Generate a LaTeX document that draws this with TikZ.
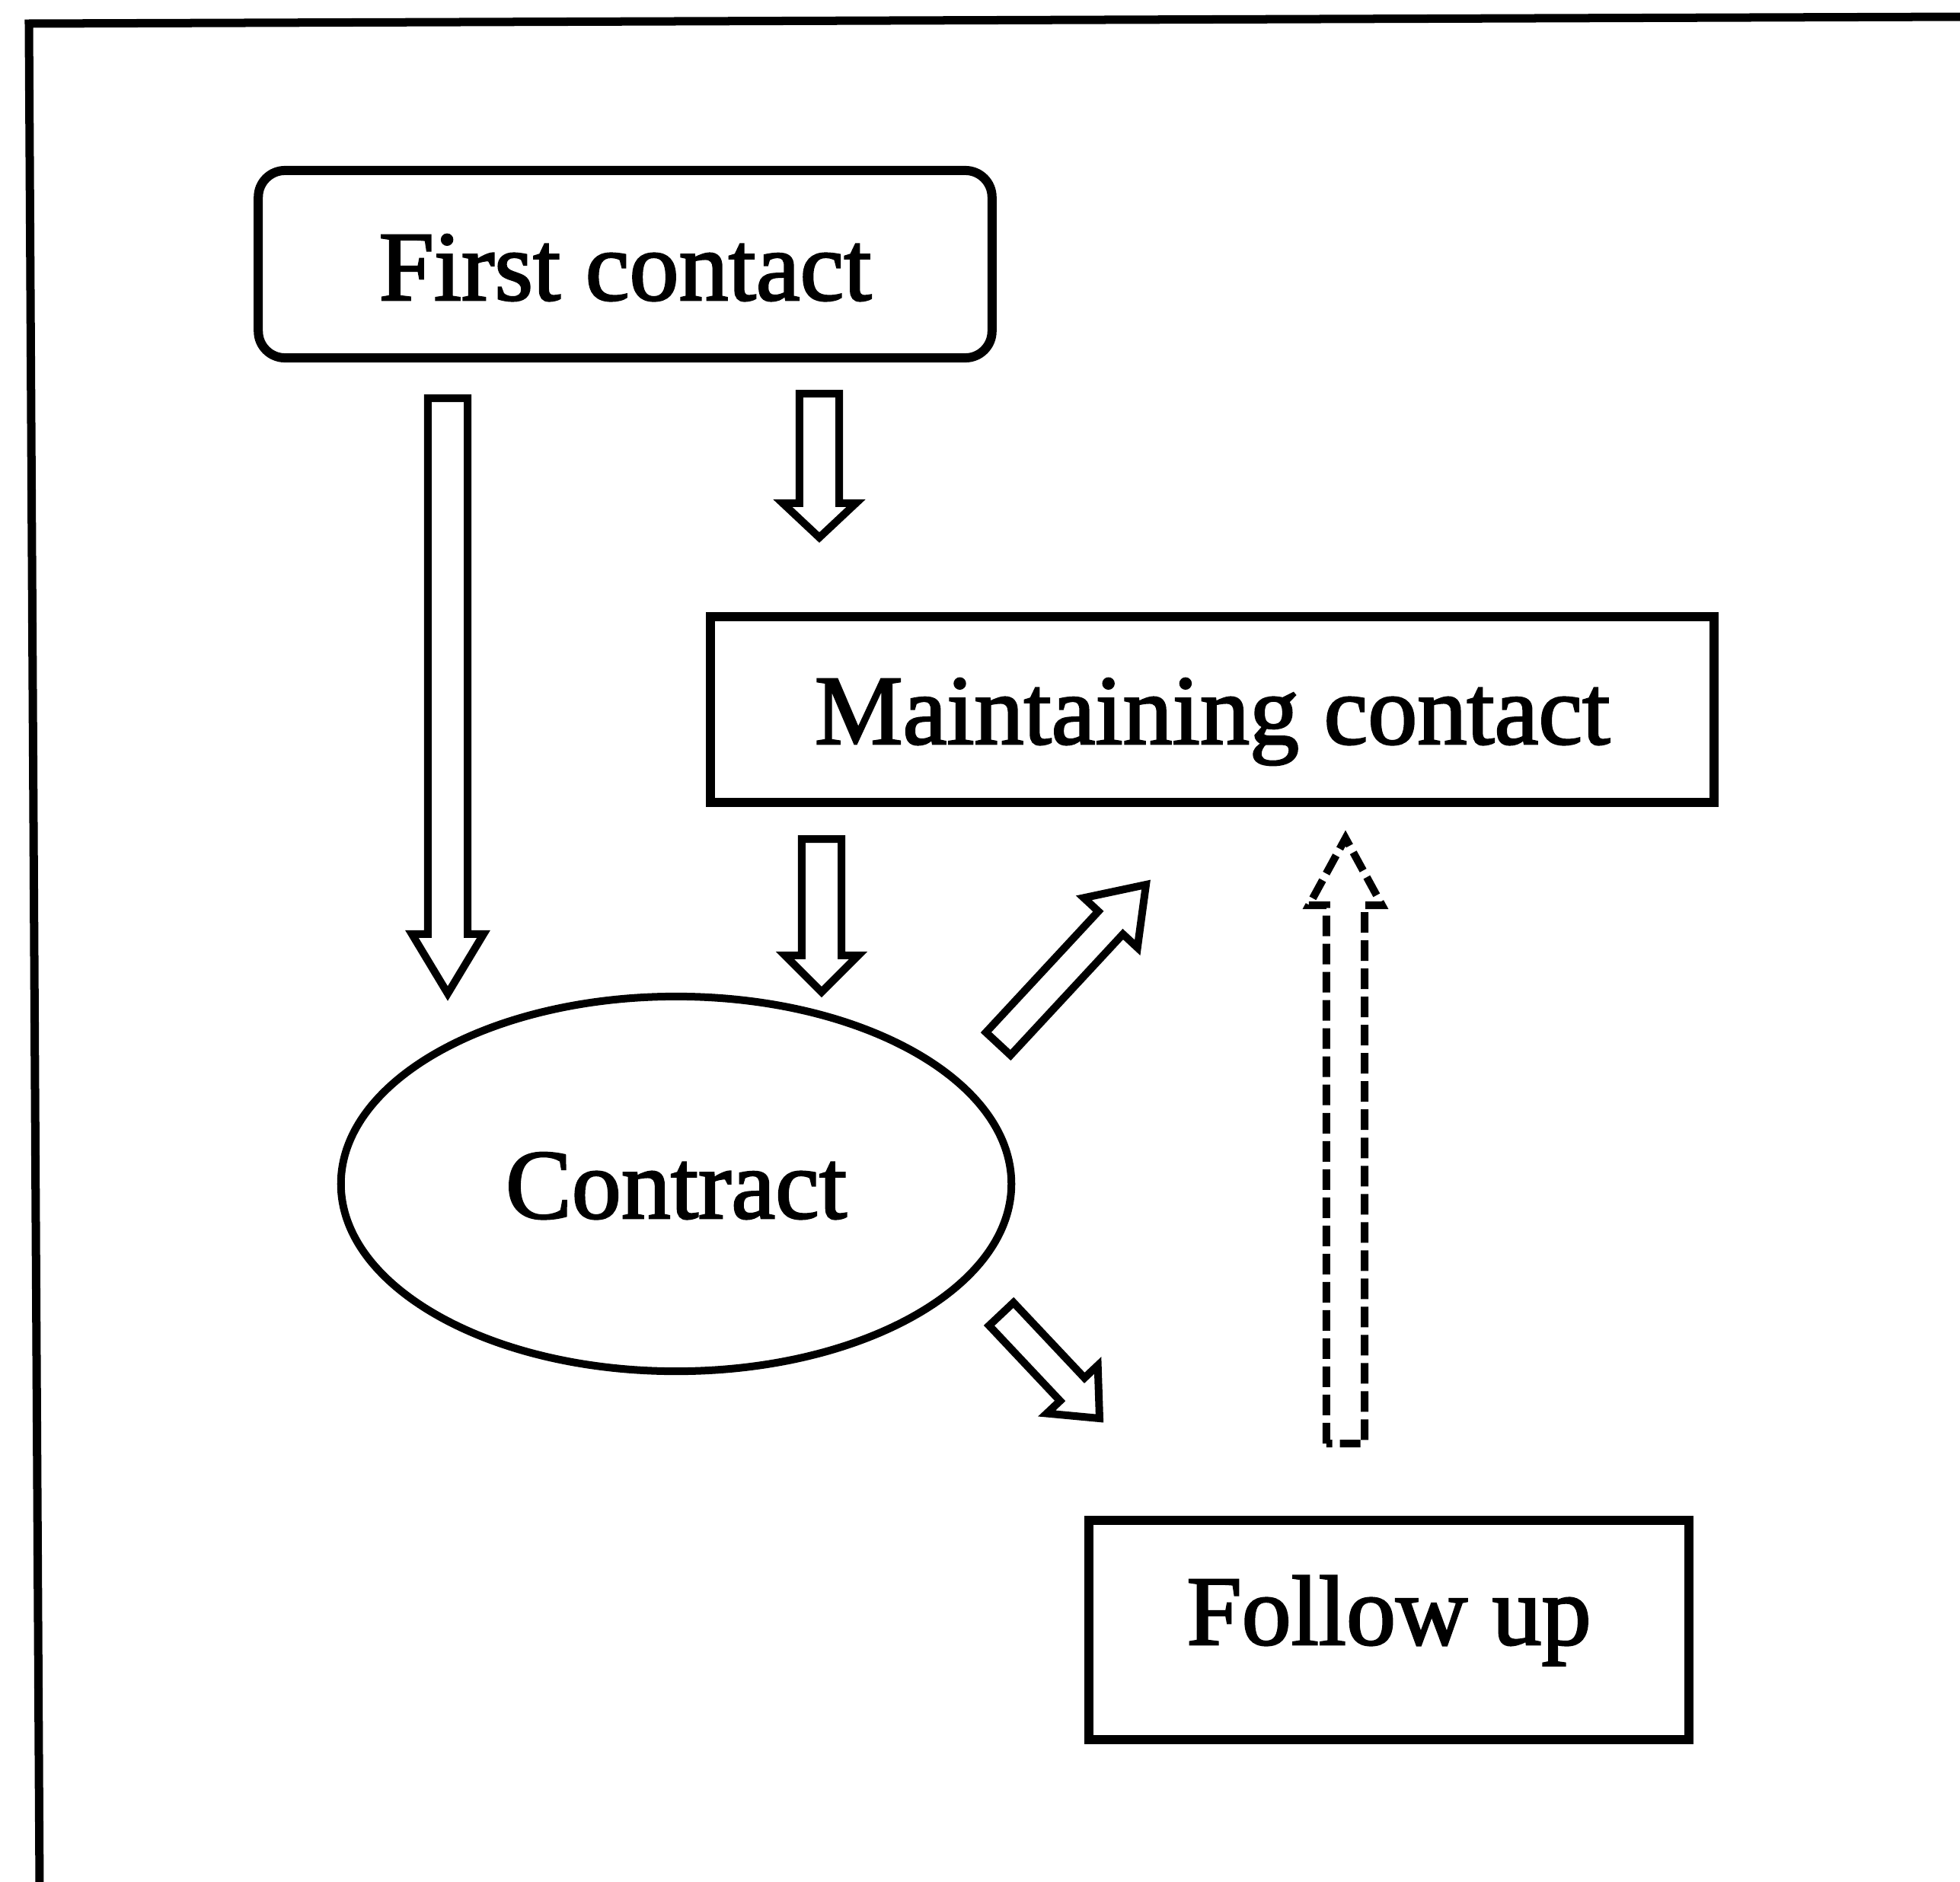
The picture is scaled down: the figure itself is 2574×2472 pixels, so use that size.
\documentclass[tikz,border=0pt]{standalone}
\usepackage{fontspec}
\newfontfamily\diagfont{Liberation Serif}[FakeBold=2]
\usetikzlibrary{calc,shapes.geometric}

\tikzset{
  % outlined block arrow drawn from the start point to the target point
  % #1 = half shaft width, #2 = half head width, #3 = head length
  blockarrow/.style n args={3}{to path={
    let \p1=(\tikztostart), \p2=(\tikztotarget),
        \n1={atan2(\y2-\y1,\x2-\x1)}, \n2={veclen(\x2-\x1,\y2-\y1)} in
    ($(\p1)+(\n1+90:#1)$)
    -- ($(\p1)+(\n1:\n2-#3)+(\n1+90:#1)$)
    -- ($(\p1)+(\n1:\n2-#3)+(\n1+90:#2)$)
    -- (\p2)
    -- ($(\p1)+(\n1:\n2-#3)+(\n1-90:#2)$)
    -- ($(\p1)+(\n1:\n2-#3)+(\n1-90:#1)$)
    -- ($(\p1)+(\n1-90:#1)$) -- cycle}},
  blk/.style={draw, line width=0.10cm, line join=miter},
  blkdash/.style={blk, dash pattern=on 0.27cm off 0.10cm},
  label font/.style={font=\diagfont\fontsize{37}{44}\selectfont},
  box/.style={draw, line width=0.12cm, inner sep=0pt, text depth=0pt, label font},
}

\begin{document}
\begin{tikzpicture}[x=0.01cm, y=-0.01cm]
  \useasboundingbox (0,0) rectangle (2574,2472);

  % open frame (left and top sides only)
  \draw[line width=0.11cm, line join=miter] (52,2480) -- (38,31) -- (2580,22);

  % stages
  \node[box, rounded corners=0.35cm, minimum width=9.63cm, minimum height=2.46cm,
        text height=0.94cm] (first) at (821,347) {First contact};
  \node[box, minimum width=13.18cm, minimum height=2.43cm,
        text height=0.90cm] (maint) at (1592,932) {Maintaining contact};
  \node[box, ellipse, line width=0.10cm, minimum width=8.80cm, minimum height=4.92cm,
        text height=0.90cm] (contract) at (888,1555) {Contract};
  \node[box, minimum width=7.87cm, minimum height=2.88cm,
        text height=0.38cm] (follow) at (1824,2141) {Follow up};

  % arrow end points
  \coordinate (fcA) at (588,523);   \coordinate (ctA) at (588,1305);
  \coordinate (fcB) at (1076,517);  \coordinate (mcB) at (1076,706);
  \coordinate (mcC) at (1079,1102); \coordinate (ctC) at (1079,1303);
  \coordinate (ctD) at (1311,1371); \coordinate (mcD) at (1505,1162);
  \coordinate (ctE) at (1315,1726); \coordinate (fuE) at (1444,1863);
  \coordinate (fuF) at (1767,1896); \coordinate (mcF) at (1767,1101);

  % block arrows between the stages
  \draw[blk] (fcA) to[blockarrow={0.26cm}{0.47cm}{0.78cm}] (ctA);
  \draw[blk] (fcB) to[blockarrow={0.26cm}{0.48cm}{0.45cm}] (mcB);
  \draw[blk] (mcC) to[blockarrow={0.26cm}{0.48cm}{0.48cm}] (ctC);
  \draw[blk] (ctD) to[blockarrow={0.22cm}{0.48cm}{0.68cm}] (mcD);
  \draw[blk] (ctE) to[blockarrow={0.22cm}{0.46cm}{0.52cm}] (fuE);
  \draw[blkdash] (fuF) to[blockarrow={0.25cm}{0.48cm}{0.88cm}] (mcF);
\end{tikzpicture}
\end{document}
